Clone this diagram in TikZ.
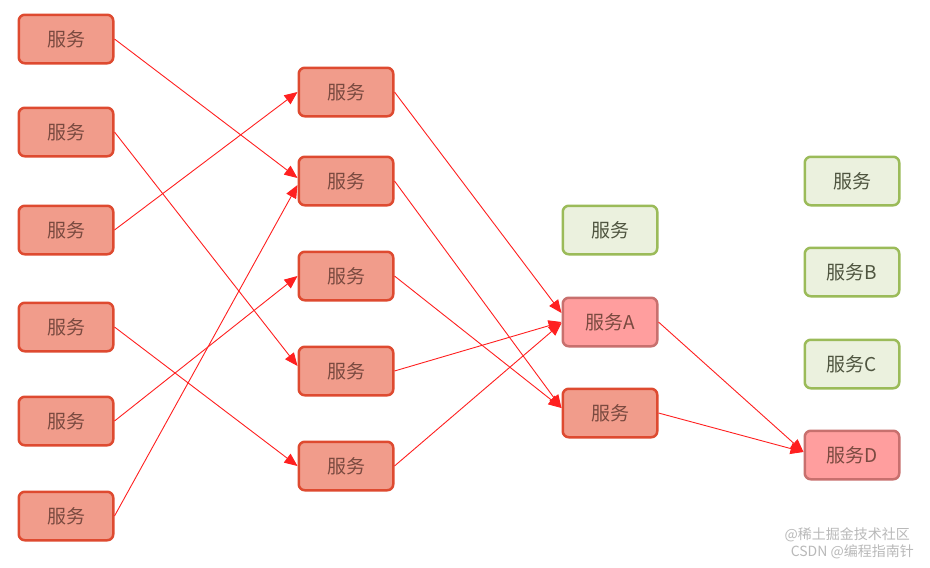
\documentclass[tikz,border=0pt]{standalone}
\usepackage{fontspec}
\setmainfont{Noto Sans CJK SC}
\usetikzlibrary{arrows.meta}
\definecolor{svcfill}{HTML}{F19C8B}
\definecolor{svcline}{HTML}{DE4A30}
\definecolor{svctext}{HTML}{7A4A40}
\definecolor{hotfill}{HTML}{FF9E9E}
\definecolor{hotline}{HTML}{C8706E}
\definecolor{idlefill}{HTML}{EBF1DE}
\definecolor{idleline}{HTML}{9BBB59}
\definecolor{idletext}{HTML}{4F5540}
\definecolor{callred}{HTML}{FF2020}
\tikzset{
  svc/.style={draw=svcline, fill=svcfill, text=svctext, line width=2.5pt,
    rounded corners=6pt, minimum width=94.5pt, minimum height=48.5pt,
    inner sep=0pt, font=\fontsize{19}{22}\selectfont},
  hot/.style={svc, draw=hotline, fill=hotfill},
  idle/.style={svc, draw=idleline, fill=idlefill, text=idletext},
  call/.style={draw, color=callred, line width=0.9pt, -{Triangle[length=13pt,width=11pt]}},
  mark wm/.style={text=gray!55, font=\fontsize{14}{16}\selectfont, inner sep=0pt}
}
\begin{document}
\begin{tikzpicture}[x=1pt, y=-1pt]
		\fill[white] (0,0) rectangle (930,568);
		\useasboundingbox (0,0) rectangle (930,568);
		\begin{scope}
			\node[svc] (a1) at (66,39) {服务};
			\node[svc] (a2) at (66,132) {服务};
			\node[svc] (a3) at (66,230) {服务};
			\node[svc] (a4) at (66,327) {服务};
			\node[svc] (a5) at (66,421) {服务};
			\node[svc] (a6) at (66,516) {服务};
		\end{scope}
		\begin{scope}
			\node[svc] (b1) at (346,92) {服务};
			\node[svc] (b2) at (346,181) {服务};
			\node[svc] (b3) at (346,276) {服务};
			\node[svc] (b4) at (346,371) {服务};
			\node[svc] (b5) at (346,466) {服务};
		\end{scope}
		\begin{scope}
			\node[idle] (c1) at (610,230) {服务};
			\node[hot] (c2) at (610,322) {服务A};
			\node[svc] (c3) at (610,413) {服务};
			\node[idle] (d1) at (852,181) {服务};
			\node[idle] (d2) at (852,272) {服务B};
			\node[idle] (d3) at (852,364) {服务C};
			\node[hot] (d4) at (852,455) {服务D};
		\end{scope}
		\path (a1.east) edge[call] ([yshift=3pt]b2.west)
			(a2.east) edge[call] ([yshift=5pt]b4.west)
			(a3.east) edge[call] (b1.west)
			(a4.east) edge[call] (b5.west)
			(a5.east) edge[call] (b3.west)
			(a6.east) edge[call] ([yshift=-4pt]b2.west);
		\path (b1.east) edge[call] ([yshift=9pt]c2.west)
			(b2.east) edge[call] ([yshift=5pt]c3.west)
			(b3.east) edge[call] ([yshift=5pt]c3.west)
			(b4.east) edge[call] (c2.west)
			(b5.east) edge[call] ([yshift=-1pt]c2.west)
			(c2.east) edge[call] ([yshift=3pt]d4.west)
			(c3.east) edge[call] ([yshift=3pt]d4.west);
		\node[mark wm, anchor=east] (wm1) at (910,535) {@稀土掘金技术社区};
		\node[mark wm, anchor=east] (wm2) at (914,552) {CSDN @编程指南针};
	\end{tikzpicture}
\end{document}
